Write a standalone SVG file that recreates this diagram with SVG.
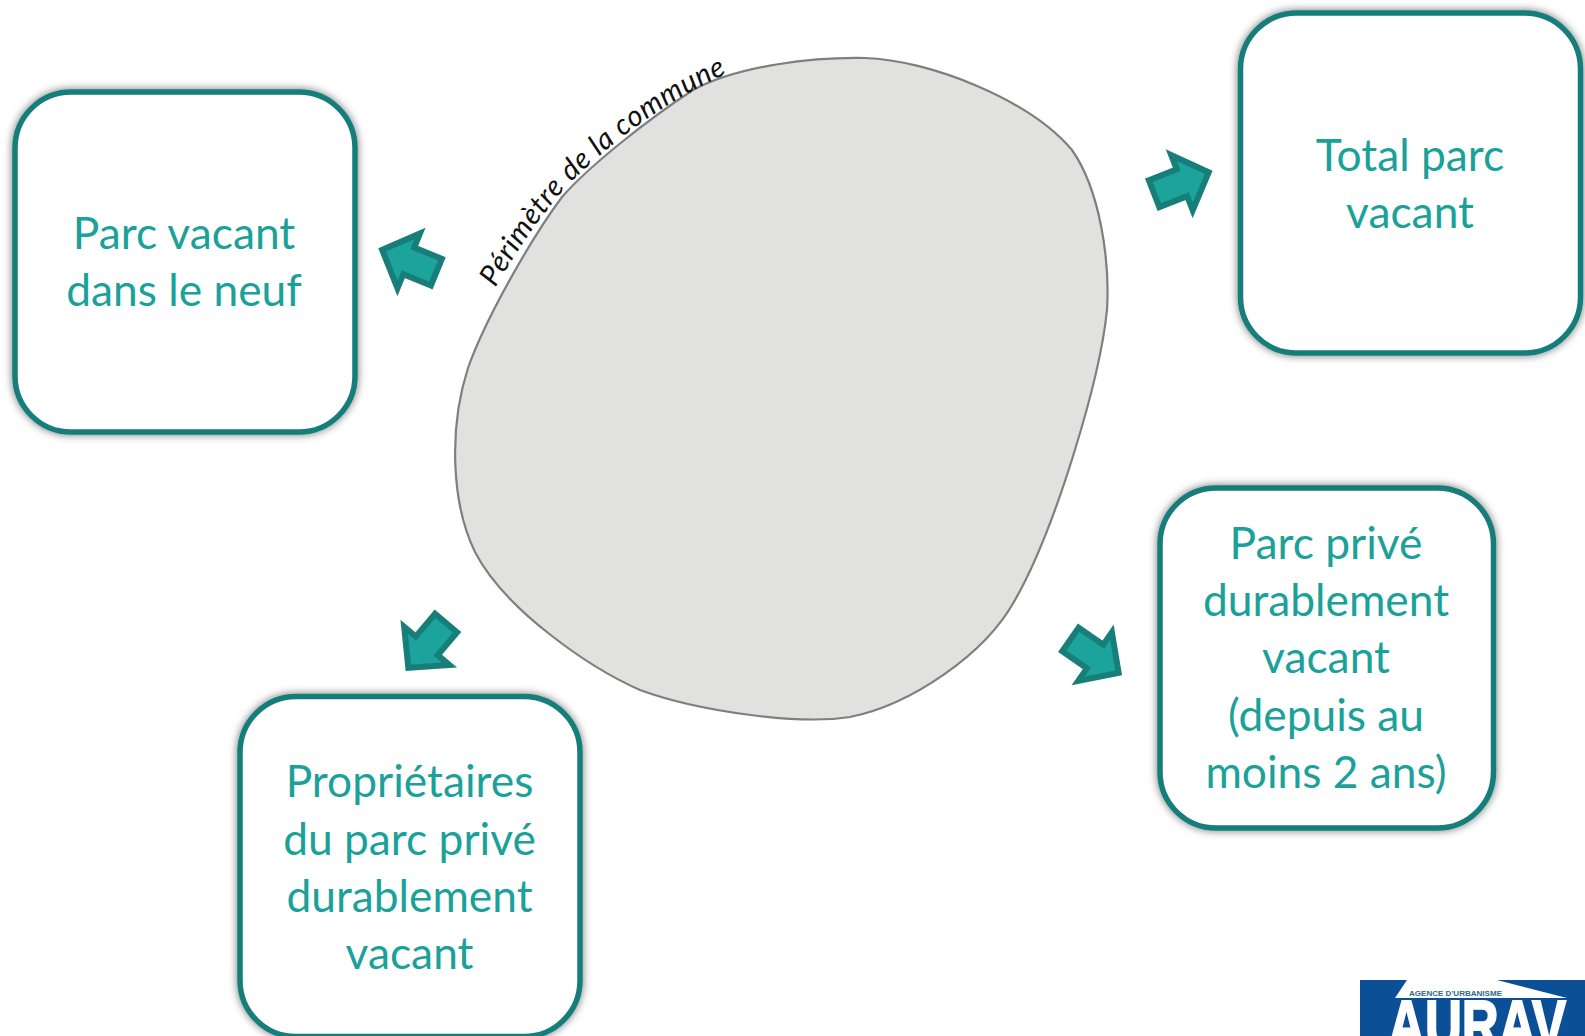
<svg xmlns="http://www.w3.org/2000/svg" width="1585" height="1036" viewBox="0 0 1585 1036">
<style>
.box{fill:#fff;stroke:#177e7a;stroke-width:5.5}
.lbl{font-family:Lato,"Open Sans",sans-serif;font-size:44.3px;fill:#1aa199;text-anchor:middle}
.arr{fill:#1ba39c;stroke:#177e7a;stroke-width:6;stroke-linejoin:miter}
</style>
<defs>
<filter id="sh" x="-10%" y="-10%" width="120%" height="120%"><feDropShadow dx="0" dy="0" stdDeviation="4" flood-color="#000" flood-opacity="0.55"/></filter>
<polygon id="arrow" points="3,-14.4 32.9,-14.4 32.9,-29.6 61.6,0 32.9,29.6 32.9,14.4 3,14.4"/>
<path id="peri" d="M 490 297 C 510 262 535 222 566 187 C 605 148 665 98 745 66"/>
</defs>
<g id="commune">
<path d="M 562 197 C 590 165 650 118 693 90 C 740 65 815 57 865 58 C 930 60 1030 100 1072 150 C 1100 190 1110 260 1107 310 C 1100 380 1055 530 1015 600 C 985 655 910 705 850 717 C 800 725 700 712 640 690 C 590 668 505 610 475 552 C 452 505 448 430 468 368 C 485 320 530 240 562 197 Z" fill="#e1e1e0" stroke="#7f7f7f" stroke-width="2.2"/>
<text font-family="Lato,cursive" font-style="italic" font-size="29px" letter-spacing="0.7" fill="#111"><textPath href="#peri" startOffset="11">Périmètre de la commune</textPath></text>
</g>
<g id="connectors">
<use href="#arrow" class="arr" transform="translate(439.15,273.3) rotate(202.3)"/>
<use href="#arrow" class="arr" transform="translate(1151.3,194.7) rotate(-21.3)"/>
<use href="#arrow" class="arr" transform="translate(448,620.7) rotate(130.1)"/>
<use href="#arrow" class="arr" transform="translate(1068,637.8) rotate(34.7)"/>
</g>
<g id="node-neuf">
<rect class="box" filter="url(#sh)" x="15" y="92" width="340" height="340" rx="56"/>
<text class="lbl"><tspan x="184" y="249">Parc vacant</tspan><tspan x="184" y="306">dans le neuf</tspan></text>
</g>
<g id="node-total">
<rect class="box" filter="url(#sh)" x="1240.5" y="13" width="340" height="340" rx="56"/>
<text class="lbl"><tspan x="1410" y="171">Total parc</tspan><tspan x="1410" y="228">vacant</tspan></text>
</g>
<g id="node-prive">
<rect class="box" filter="url(#sh)" x="1160" y="488" width="333.5" height="340" rx="56"/>
<text class="lbl"><tspan x="1326" y="559">Parc privé</tspan><tspan x="1326" y="616">durablement</tspan><tspan x="1326" y="673">vacant</tspan><tspan x="1326" y="731">(depuis au</tspan><tspan x="1326" y="788">moins 2 ans)</tspan></text>
</g>
<g id="node-proprietaires">
<rect class="box" filter="url(#sh)" x="240" y="696.5" width="340" height="340" rx="56"/>
<text class="lbl"><tspan x="409.5" y="797">Propriétaires</tspan><tspan x="409.5" y="855">du parc privé</tspan><tspan x="409.5" y="912">durablement</tspan><tspan x="409.5" y="969">vacant</tspan></text>
</g>
<g id="logo">
<rect x="1360" y="980" width="225" height="56" fill="#0b4f96"/>
<polygon points="1407,980 1497,980 1567,998 1395,998" fill="#fff"/>
<text x="1477" y="1048" font-family="Liberation Sans,sans-serif" font-weight="bold" font-size="68px" fill="#fff" stroke="#fff" stroke-width="2" text-anchor="middle" textLength="178" lengthAdjust="spacingAndGlyphs">AURAV</text>
<text x="1409" y="996" font-family="Liberation Sans,sans-serif" font-weight="bold" font-size="8px" fill="#2c6a8f" textLength="93" lengthAdjust="spacingAndGlyphs">AGENCE D'URBANISME</text>
</g>
</svg>
